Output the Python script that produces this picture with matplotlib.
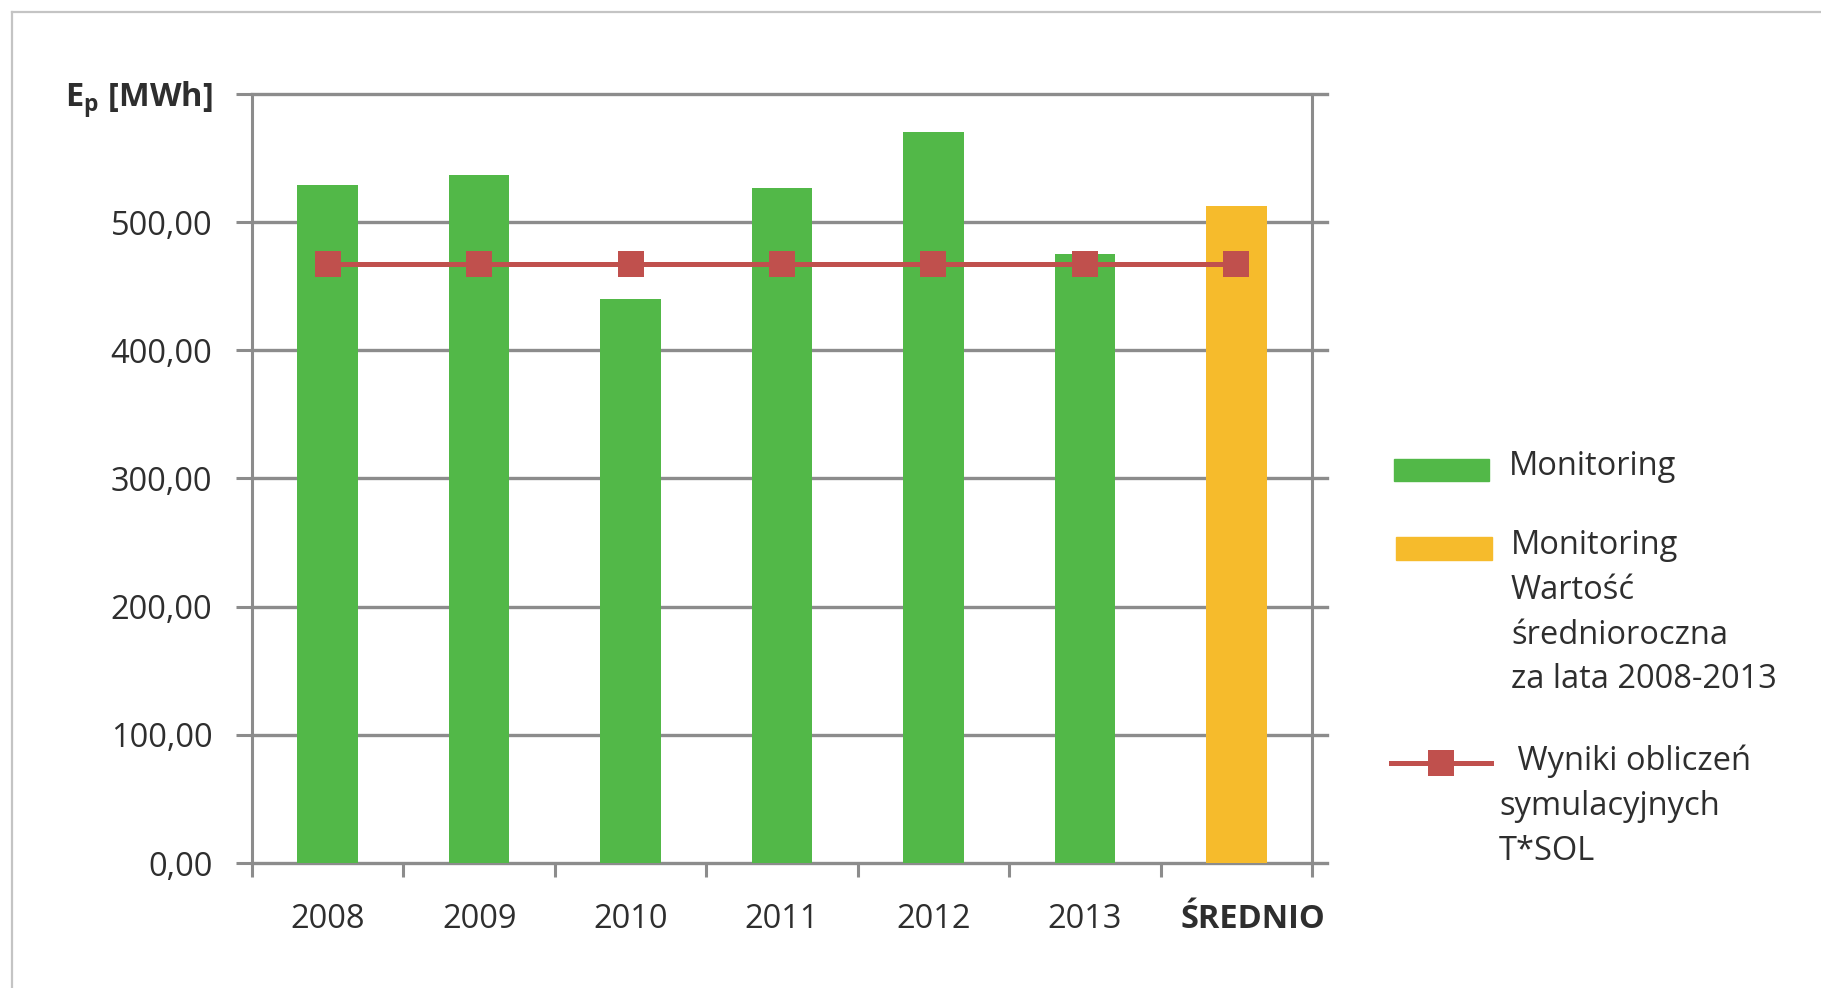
import matplotlib.pyplot as plt
from matplotlib.patches import Rectangle
from matplotlib.lines import Line2D
from matplotlib.transforms import ScaledTranslation

plt.rcParams['font.family'] = ['Open Sans', 'DejaVu Sans']
plt.rcParams['mathtext.fontset'] = 'custom'
plt.rcParams['mathtext.rm'] = 'Open Sans'
plt.rcParams['mathtext.bf'] = 'Open Sans:bold'

categories = ['2008', '2009', '2010', '2011', '2012', '2013', 'ŚREDNIO']
monitoring = [529, 537, 440, 527, 570, 475]
average = 513
simulation = [467, 467, 467, 467, 467, 467, 467]
y_ticks = [0, 100, 200, 300, 400, 500, 600]
y_labels = ['0,00', '100,00', '200,00', '300,00', '400,00', '500,00', r'E$_\mathbf{p}$ [MWh]']

green = '#52b848'
orange = '#f6bb2c'
red = '#c0504d'
grid = '#8c8c8c'
text_col = '#2e2e2e'
FS = 23.5

W, H = 1821, 988
fig = plt.figure(figsize=(W / 100, H / 100), dpi=100)
ax = fig.add_axes([252 / W, 1 - 863 / H, (1312 - 252) / W, (863 - 94) / H])

x = [i + 0.5 for i in range(len(categories))]

# horizontal grid, running a little past the right border
for yv in y_ticks:
    ax.plot([0, 7.1], [yv, yv], color=grid, lw=2.4, clip_on=False, zorder=1)

ax.bar(x[:6], monitoring, width=0.4, color=green, zorder=2)
ax.bar(x[6], average, width=0.4, color=orange, zorder=2)
ax.plot(x, simulation, color=red, lw=3.6, marker='s', markersize=19,
        markeredgewidth=0, zorder=3)

ax.set_xlim(0, 7)
ax.set_ylim(0, 600)

for side in ['top', 'bottom']:
    ax.spines[side].set_visible(False)
for side in ['left', 'right']:
    ax.spines[side].set_color(grid)
    ax.spines[side].set_linewidth(2.2)

ax.set_yticks(y_ticks)
ax.set_yticklabels(y_labels)
ax.tick_params(axis='y', length=11.5, width=2.2, color=grid, pad=17,
               labelsize=FS, labelcolor=text_col)
ax.get_yticklabels()[-1].set_fontweight('bold')

# category labels sit between boundary ticks
ax.set_xticks(range(8), minor=True)
ax.set_xticks(x)
ax.set_xticklabels(categories)
ax.tick_params(axis='x', which='major', length=0, pad=29, labelsize=FS,
               labelcolor=text_col)
ax.tick_params(axis='x', which='minor', length=10, width=2.2, color=grid)
last = ax.get_xticklabels()[-1]
last.set_fontweight('bold')
last.set_transform(last.get_transform() + ScaledTranslation(0.17, 0, fig.dpi_scale_trans))

# chart frame (top and left edges)
fig.add_artist(Line2D([12 / W, 1.0], [1 - 12 / H, 1 - 12 / H],
                      transform=fig.transFigure, color='#c4c4c4', lw=1.6))
fig.add_artist(Line2D([12 / W, 12 / W], [0, 1 - 12 / H],
                      transform=fig.transFigure, color='#c4c4c4', lw=1.6))


def px(xp, yp):
    return xp / W, 1 - yp / H


# legend
fig.add_artist(Rectangle(px(1394, 481), 95 / W, 22 / H, color=green,
                         transform=fig.transFigure))
fig.text(*px(1509, 466), 'Monitoring', fontsize=FS, color=text_col, va='center')

fig.add_artist(Rectangle(px(1396, 560), 96 / W, 23 / H, color=orange,
                         transform=fig.transFigure))
avg_lines = ['Monitoring', 'Wartość', 'średnioroczna', 'za lata 2008-2013']
for i, line in enumerate(avg_lines):
    fig.text(*px(1511, 545 + 45 * i), line, fontsize=FS, color=text_col, va='center')

fig.add_artist(Line2D([1391 / W, 1491 / W], [1 - 763 / H, 1 - 763 / H],
                      transform=fig.transFigure, color=red, lw=3.6))
fig.add_artist(Line2D([1441 / W], [1 - 763 / H], transform=fig.transFigure,
                      color=red, marker='s', markersize=19, markeredgewidth=0))
sim_lines = [(1509, ' Wyniki obliczeń'), (1499, 'symulacyjnych'), (1499, 'T*SOL')]
for i, (xp, line) in enumerate(sim_lines):
    fig.text(*px(xp, 761 + 45 * i), line, fontsize=FS, color=text_col, va='center')

fig.savefig('out.png', dpi=100)
